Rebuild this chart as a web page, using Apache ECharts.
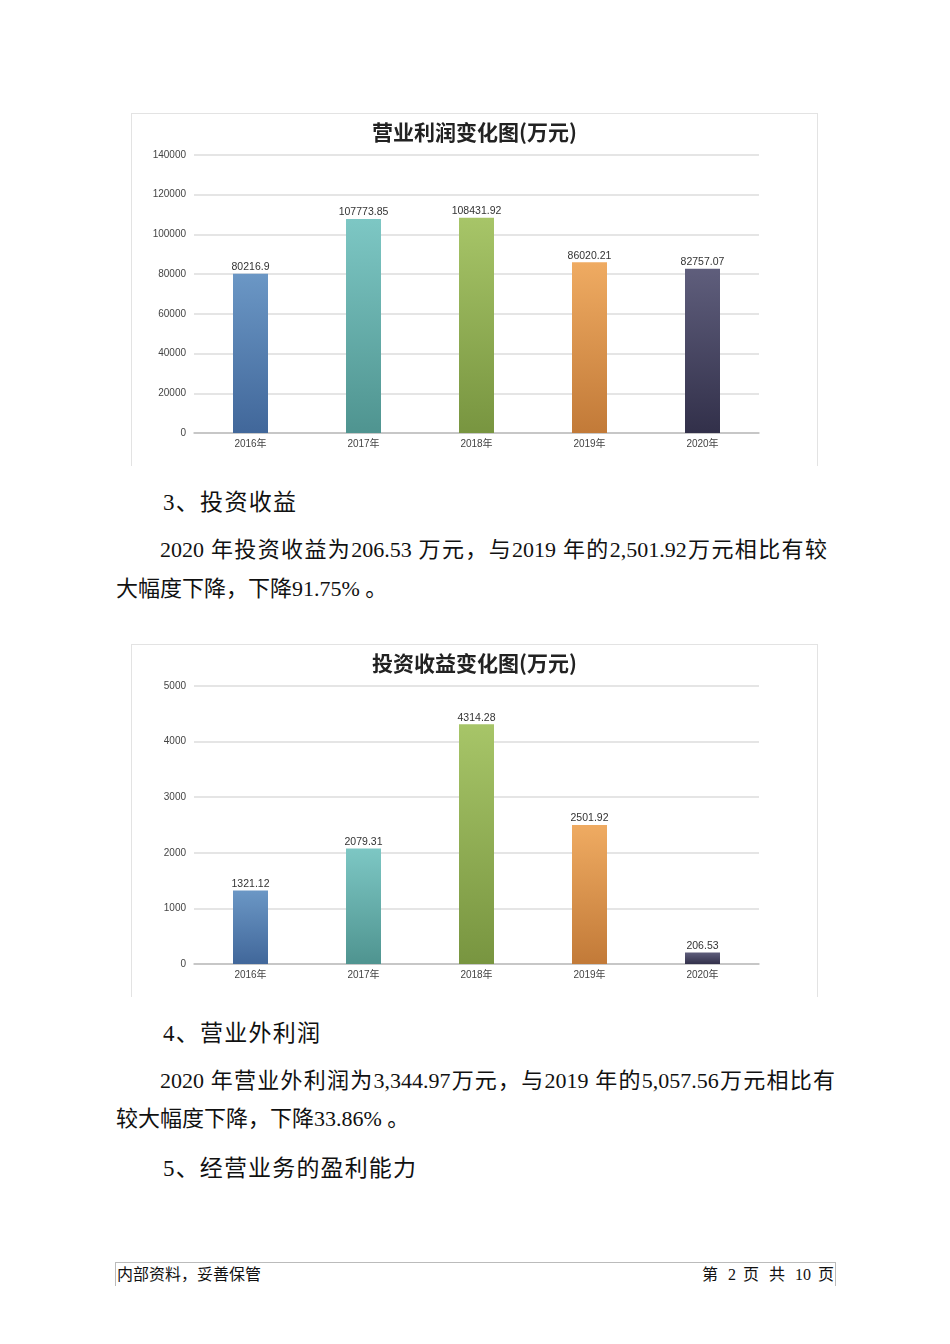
<!DOCTYPE html>
<html>
<head>
<meta charset="utf-8">
<script src="https://cdn.jsdelivr.net/npm/echarts@6/dist/echarts.min.js"></script>
<style>
  body { margin: 0; background: #fff; }
  #page { position: relative; width: 950px; height: 1344px; overflow: hidden; }
  .chart { position: absolute; left: 131px; width: 687px; height: 353px;
           border: 1px solid #e3e3e3; border-bottom: none; box-sizing: border-box; }
  .txt { position: absolute; white-space: nowrap; font-size: 22px; color: #111;
         font-family: "Liberation Serif", "Noto Sans CJK SC", serif; line-height: 26px;
         text-align: justify; text-align-last: justify; }
  .head { font-size: 23px; }
  .foot { position: absolute; white-space: nowrap; font-size: 16px; color: #111;
          font-family: "Liberation Serif", "Noto Sans CJK SC", serif; line-height: 20px;
          text-align: justify; text-align-last: justify; }
</style>
</head>
<body>
<div id="page">
  <div id="chart1" class="chart" style="top:113px"></div>
  <div class="txt head" style="left:163px; top:490px; width:133px">3、投资收益</div>
  <div class="txt" style="left:160px; top:537px; width:667px">2020 年投资收益为206.53 万元，与2019 年的2,501.92万元相比有较</div>
  <div class="txt" style="left:116px; top:576px; width:267px">大幅度下降，下降91.75% 。</div>
  <div id="chart2" class="chart" style="top:644px"></div>
  <div class="txt head" style="left:163px; top:1021px; width:157px">4、营业外利润</div>
  <div class="txt" style="left:160px; top:1068px; width:675px">2020 年营业外利润为3,344.97万元，与2019 年的5,057.56万元相比有</div>
  <div class="txt" style="left:116px; top:1106px; width:291px">较大幅度下降，下降33.86% 。</div>
  <div class="txt head" style="left:163px; top:1156px; width:253px">5、经营业务的盈利能力</div>
  <div style="position:absolute; left:115px; top:1262px; width:721px; height:24px;
              border:1px solid #bbb; border-bottom:none; box-sizing:border-box;"></div>
  <div class="foot" style="left:117px; top:1265px; width:141px">内部资料，妥善保管</div>
  <div class="foot" style="left:702px; top:1265px; width:132px">第 2 页 共 10 页</div>
</div>
<script>
let years = ['2016年', '2017年', '2018年', '2019年', '2020年'];
let operatingProfit = [80216.9, 107773.85, 108431.92, 86020.21, 82757.07];
let investIncome = [1321.12, 2079.31, 4314.28, 2501.92, 206.53];
let barTop = ['#6b97c5', '#7dc7c4', '#a7c568', '#efab62', '#5f5e7c'];
let barBottom = ['#41679a', '#4f9490', '#789540', '#c27a38', '#32304a'];

function makeOption(title, values, max, interval) {
  let data = values.map(function (v, i) {
    return {
      value: v,
      itemStyle: {
        color: new echarts.graphic.LinearGradient(0, 0, 0, 1, [
          { offset: 0, color: barTop[i] },
          { offset: 1, color: barBottom[i] }
        ])
      }
    };
  });
  return {
    animation: false,
    title: {
      text: title,
      left: 'center',
      top: 3,
      textStyle: { fontSize: 21, fontWeight: 'bold', color: '#222', fontFamily: 'Noto Sans CJK SC' }
    },
    grid: { left: 62, right: 58, top: 41, bottom: 33 },
    xAxis: {
      type: 'category',
      data: years,
      axisLine: { lineStyle: { color: '#bdbdbd', width: 1.5 } },
      axisTick: { show: false },
      axisLabel: { color: '#444', fontSize: 10, margin: 6, fontFamily: 'Liberation Sans, Noto Sans CJK SC' }
    },
    yAxis: {
      type: 'value',
      min: 0,
      max: max,
      interval: interval,
      axisLine: { show: false },
      axisTick: { show: false },
      axisLabel: {
        color: '#444', fontSize: 10, margin: 8, fontFamily: 'Liberation Sans',
        formatter: function (v) { return String(v); }
      },
      splitLine: { lineStyle: { color: '#dcdcdc', width: 1.5 } }
    },
    series: [{
      type: 'bar',
      data: data,
      barWidth: 35,
      label: {
        show: true,
        position: 'top',
        distance: 1,
        color: '#333',
        fontSize: 10.5,
        fontFamily: 'Liberation Sans'
      }
    }]
  };
}

let chart1 = echarts.init(document.getElementById('chart1'));
chart1.setOption(makeOption('营业利润变化图(万元)', operatingProfit, 140000, 20000));
let chart2 = echarts.init(document.getElementById('chart2'));
chart2.setOption(makeOption('投资收益变化图(万元)', investIncome, 5000, 1000));
</script>
</body>
</html>
